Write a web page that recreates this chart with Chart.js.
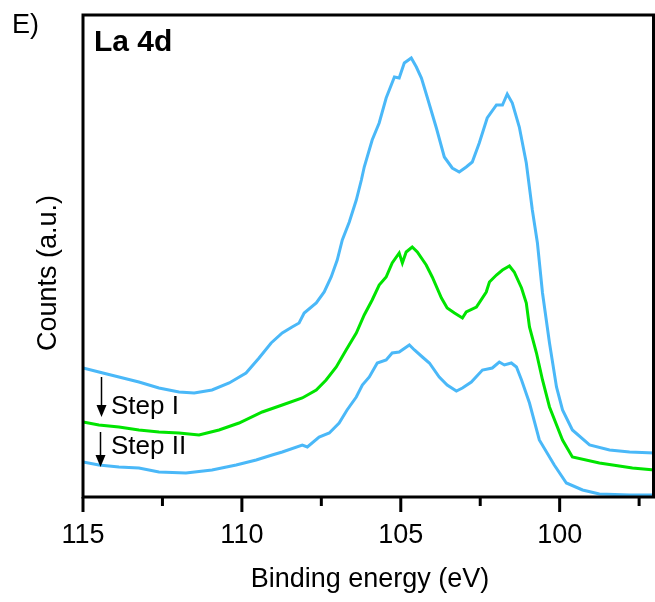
<!DOCTYPE html>
<html>
<head>
<meta charset="utf-8">
<script src="https://cdn.jsdelivr.net/npm/chart.js@4.4.1/dist/chart.umd.min.js"></script>
<style>
    html, body { margin: 0; padding: 0; background: #ffffff; }
    #wrap { width: 655px; height: 602px; }
</style>
</head>
<body>
<div id="wrap"><canvas id="chart"></canvas></div>
<script>
'use strict';

// binding energy (eV) and counts (a.u.)
var topEnergy = [115.00, 114.50, 113.87, 113.24, 112.61, 111.98, 111.50, 110.94, 110.40, 109.87,
    109.46, 109.08, 108.73, 108.42, 108.20, 108.04, 107.66, 107.41, 107.19, 107.00,
    106.84, 106.62, 106.40, 106.24, 106.15, 105.90, 105.68, 105.46, 105.20, 105.05,
    104.89, 104.67, 104.51, 104.35, 104.17, 103.88, 103.63, 103.38, 103.16, 102.94,
    102.75, 102.53, 102.28, 101.99, 101.80, 101.65, 101.49, 101.27, 101.05, 100.86,
    100.70, 100.54, 100.32, 100.10, 99.91, 99.60, 99.06, 98.43, 97.80, 97.02];
var topCounts = [130, 126, 121, 116, 110, 106, 105, 108, 115, 125,
    140, 155, 165, 171, 175, 185, 195, 206, 221, 238,
    258, 276, 298, 318, 331, 358, 375, 400, 421, 420,
    435, 440, 431, 420, 401, 370, 341, 330, 326, 331,
    336, 355, 380, 393, 393, 404, 395, 371, 335, 288,
    255, 205, 155, 111, 88, 68, 53, 48, 46, 45];

var stepOneEnergy = [115.00, 114.50, 113.87, 113.24, 112.61, 111.98, 111.35, 110.72, 110.09, 109.36,
    108.73, 108.10, 107.66, 107.35, 107.03, 106.72, 106.40, 106.15, 105.90, 105.68,
    105.46, 105.27, 105.05, 104.95, 104.83, 104.64, 104.48, 104.20, 104.01, 103.72,
    103.54, 103.31, 103.06, 102.94, 102.62, 102.31, 102.21, 101.99, 101.80, 101.58,
    101.43, 101.20, 101.05, 100.95, 100.73, 100.54, 100.32, 99.91, 99.60, 98.75,
    97.71, 97.02];
var stepOneCounts = [76, 73, 71, 68, 66, 65, 63, 68, 75, 86,
    93, 100, 108, 118, 131, 148, 165, 183, 198, 213,
    221, 235, 245, 235, 246, 251, 246, 233, 221, 200,
    190, 185, 180, 186, 191, 206, 216, 223, 228, 232,
    226, 210, 195, 171, 145, 118, 91, 58, 41, 35,
    30, 28];

var stepTwoEnergy = [115.00, 114.50, 113.87, 113.24, 112.61, 111.76, 110.94, 110.18, 109.55, 109.05,
    108.73, 108.10, 107.94, 107.57, 107.25, 106.94, 106.69, 106.40, 106.21, 105.99,
    105.74, 105.46, 105.27, 105.05, 104.73, 104.57, 104.32, 104.10, 103.79, 103.54,
    103.25, 103.06, 102.78, 102.43, 102.12, 101.90, 101.74, 101.52, 101.36, 101.20,
    100.95, 100.64, 100.17, 99.79, 99.28, 98.75, 97.80, 97.02];
var stepTwoCounts = [36, 33, 31, 30, 26, 25, 28, 33, 38, 43,
    46, 53, 51, 61, 65, 75, 88, 101, 113, 121,
    135, 138, 145, 146, 153, 148, 141, 135, 121, 113,
    107, 110, 116, 128, 130, 136, 133, 135, 131, 118,
    95, 58, 33, 15, 8, 4, 3, 3];

var majorTicks = [115, 110, 105, 100];
var minorTicks = [112.5, 107.5, 102.5, 97.5];

var blue = '#4ab8f8';
var green = '#00e400';
var font = "'Liberation Sans', Arial, sans-serif";

function toPoints(xs, ys) {
    var pts = [];
    for (var i = 0; i < xs.length; i++) {
        pts.push({x: xs[i], y: ys[i]});
    }
    return pts;
}

function arrow(ctx, x, y1, y2) {
    ctx.beginPath();
    ctx.moveTo(x, y1);
    ctx.lineTo(x, y2 - 8);
    ctx.stroke();
    ctx.beginPath();
    ctx.moveTo(x - 5, y2 - 12);
    ctx.lineTo(x + 5, y2 - 12);
    ctx.lineTo(x, y2);
    ctx.closePath();
    ctx.fill();
}

// frame, ticks and texts
var decor = {
    id: 'decor',
    afterDraw: function (chart) {
        var ctx = chart.ctx;
        var area = chart.chartArea;
        var xs = chart.scales.x;
        var right = chart.width - 1.5;
        ctx.save();
        ctx.strokeStyle = '#000';
        ctx.fillStyle = '#000';
        ctx.lineWidth = 3;
        ctx.beginPath();
        ctx.rect(area.left, area.top, right - area.left, area.bottom - area.top);
        ctx.stroke();

        ctx.font = '27px ' + font;
        ctx.textAlign = 'center';
        ctx.textBaseline = 'alphabetic';
        majorTicks.forEach(function (v) {
            var px = xs.getPixelForValue(v);
            ctx.beginPath();
            ctx.moveTo(px, area.bottom);
            ctx.lineTo(px, area.bottom + 15);
            ctx.stroke();
            ctx.fillText(String(v), px, area.bottom + 46);
        });
        minorTicks.forEach(function (v) {
            var px = xs.getPixelForValue(v);
            ctx.beginPath();
            ctx.moveTo(px, area.bottom);
            ctx.lineTo(px, area.bottom + 9);
            ctx.stroke();
        });

        ctx.fillText('Binding energy (eV)', 370, 587);

        ctx.save();
        ctx.translate(56, 273);
        ctx.rotate(-Math.PI / 2);
        ctx.fillText('Counts (a.u.)', 0, 0);
        ctx.restore();

        ctx.textAlign = 'left';
        ctx.fillText('E)', 12, 33);
        ctx.font = 'bold 30px ' + font;
        ctx.fillText('La 4d', 94, 51);

        ctx.font = '26px ' + font;
        ctx.fillText('Step I', 111, 414);
        ctx.fillText('Step II', 111, 454);
        ctx.lineWidth = 1.5;
        arrow(ctx, 101.5, 377, 417);
        arrow(ctx, 100.5, 432, 467);
        ctx.restore();
    }
};

var ctx = document.getElementById('chart');
var chart = new Chart(ctx, {
    type: 'line',
    data: {
        datasets: [{
            label: 'As prepared',
            data: toPoints(topEnergy, topCounts),
            borderColor: blue
        }, {
            label: 'Step I',
            data: toPoints(stepOneEnergy, stepOneCounts),
            borderColor: green
        }, {
            label: 'Step II',
            data: toPoints(stepTwoEnergy, stepTwoCounts),
            borderColor: blue
        }]
    },
    options: {
        responsive: true,
        maintainAspectRatio: false,
        animation: false,
        layout: {padding: {left: 83, right: 0, top: 15, bottom: 105}},
        elements: {
            line: {borderWidth: 3, tension: 0, fill: false},
            point: {radius: 0}
        },
        scales: {
            x: {type: 'linear', reverse: true, min: 97, max: 115, display: false},
            y: {type: 'linear', min: 1, max: 483, display: false}
        },
        plugins: {
            legend: {display: false},
            tooltip: {enabled: false}
        }
    },
    plugins: [decor]
});
</script>
</body>
</html>
